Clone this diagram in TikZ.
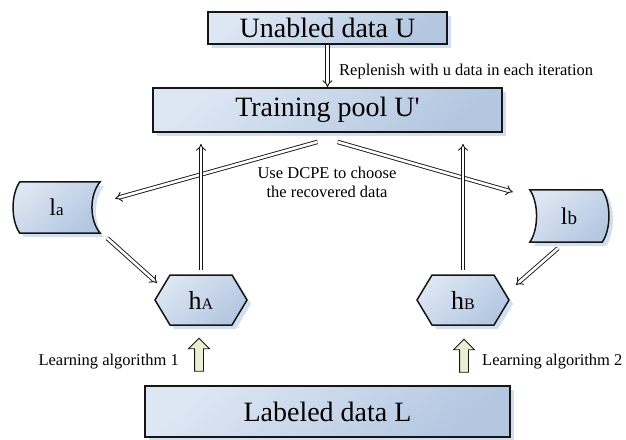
\documentclass[tikz,border=0pt]{standalone}
\usepackage{fontspec}
\setmainfont{Liberation Serif}[Ligatures=TeXOff]
\usetikzlibrary{arrows.meta,positioning,calc,backgrounds,shadows,shapes.symbols,shapes.arrows}
\definecolor{boxlight}{HTML}{DDE6F3}
\definecolor{boxdark}{HTML}{B3C7E1}
\definecolor{shadeblue}{HTML}{D3DEEE}
\definecolor{ink}{HTML}{161616}
\definecolor{ivory}{HTML}{ECEDD3}
\tikzset{
  databox/.style={draw=ink,line width=1.8pt,top color=boxlight,bottom color=boxdark,
    shading angle=40,inner sep=0pt,font=\fontsize{28}{32}\selectfont,
    drop shadow={shadow xshift=4pt,shadow yshift=-4pt,fill=shadeblue,opacity=1}},
  hexnode/.style={signal,signal to=west and east,signal pointer angle=118,
    draw=ink,line width=1.5pt,top color=boxlight,bottom color=boxdark,shading angle=40,
    minimum width=92pt,minimum height=50pt,inner sep=0pt,font=\fontsize{26}{28}\selectfont,
    drop shadow={shadow xshift=4pt,shadow yshift=-4pt,fill=shadeblue,opacity=1}},
  storenode/.style={rectangle,inner sep=0pt,font=\fontsize{24}{26}\selectfont},
  storeline/.style={draw=ink,line width=1.5pt,top color=boxlight,bottom color=boxdark,shading angle=40,
    drop shadow={shadow xshift=4pt,shadow yshift=-4pt,fill=shadeblue,opacity=1}},
  hollow/.style={draw=ink,line width=0.9pt,double=white,double distance=2.6pt,-{Implies[scale=1.3]}},
  learnarrow/.style={single arrow,draw=ink,fill=ivory,line width=0.9pt,rotate=90,
    minimum height=33pt,minimum width=20pt,single arrow head extend=6pt,inner xsep=0pt,inner ysep=4pt},
  note/.style={font=\fontsize{16.5}{19}\selectfont,inner sep=0pt},
}
\begin{document}
\begin{tikzpicture}[x=1pt,y=-1pt]
  \useasboundingbox (0,0) rectangle (626,439);

  \node[databox,minimum width=239pt,minimum height=32pt] (unl)  at (327.5,28)  {Unabled data U};
  \node[databox,minimum width=349pt,minimum height=44pt] (pool) at (327.5,110) {Training pool U'};
  \node[databox,minimum width=365pt,minimum height=51pt] (lab)  at (327.5,411.5) {Labeled data L};

  \node[hexnode] (hA) at (201,300) {h{\fontsize{16}{18}\selectfont A}};
  \node[hexnode] (hB) at (463,300) {h{\fontsize{16}{18}\selectfont B}};

  \node[storenode,minimum width=87pt,minimum height=51pt] (la) at (56.5,207.5) {l{\fontsize{17}{18}\selectfont a}};
  \node[storenode,minimum width=78pt,minimum height=52pt] (lb) at (569,216) {l{\fontsize{19}{20}\selectfont b}};

  % outlines of the two stores
  \begin{scope}[on background layer]
    \path[storeline] ($(la.north west)+(7,0)$) -- (la.north east)
      .. controls ($(la.north east)+(-11,13)$) and ($(la.south east)+(-11,-13)$) .. (la.south east)
      -- ($(la.south west)+(7,0)$)
      .. controls ($(la.south west)+(-2,-13)$) and ($(la.north west)+(-2,13)$) .. cycle;
    \path[storeline] (lb.north west) -- ($(lb.north east)+(-6,0)$)
      .. controls ($(lb.north east)+(3,13)$) and ($(lb.south east)+(3,-13)$) .. ($(lb.south east)+(-6,0)$)
      -- (lb.south west)
      .. controls ($(lb.south west)+(9,-13)$) and ($(lb.north west)+(9,13)$) .. cycle;
  \end{scope}

  \draw[hollow] (unl) -- (pool);
  \draw[hollow] ($(pool.south)+(-10,9)$) -- ($(la.east)+(15,-9)$);
  \draw[hollow] ($(pool.south)+(10,9)$)  -- ($(lb.west)+(-17,-24)$);
  \draw[hollow] ([yshift=4pt]hA.north) -- ([yshift=-11pt]hA.north |- pool.south);
  \draw[hollow] ([yshift=4pt]hB.north) -- ([yshift=-11pt]hB.north |- pool.south);
  \draw[hollow] ($(la.south east)+(7,5)$) -- ($(hA.west)+(3,-17)$);
  \draw[hollow] ($(lb.south)+(-11,6)$) -- ($(hB.east)+(6,-15)$);

  \node[learnarrow] (upA) at (199,357) {};
  \node[learnarrow] (upB) at (464,358) {};

  \node[note,anchor=west] (repl) at (339,72) {Replenish with u data in each iteration};
  \node[note,align=center] (dcpe) at (327,182) {Use DCPE to choose\\the recovered data};
  \node[note,anchor=east] (alg1) at (179,362) {Learning algorithm 1};
  \node[note,anchor=west] (alg2) at (482,362) {Learning algorithm 2};
\end{tikzpicture}
\end{document}
